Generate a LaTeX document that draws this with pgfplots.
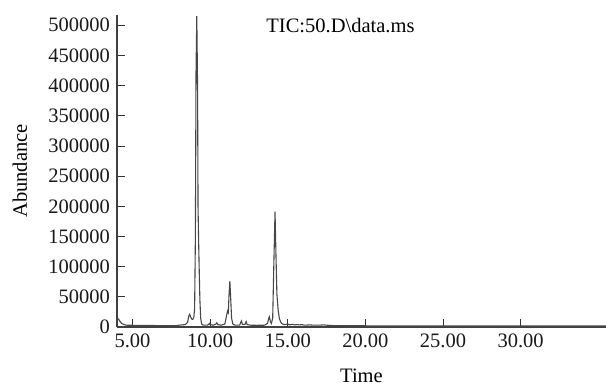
\documentclass[border=0pt]{standalone}
\usepackage{fontspec}
\setmainfont{Liberation Serif}
\usepackage{pgfplots}
\pgfplotsset{compat=1.18}
\begin{document}
\fontsize{20.5}{24}\selectfont
\begin{tikzpicture}
\begin{axis}[name=ax, scale only axis, width=489pt, height=312pt,
  xmin=4, xmax=35.5, ymin=0, ymax=517000,
  axis x line*=bottom, axis y line*=left,
  xtick={5,10,...,30},
  ytick={0,50000,...,500000},
  scaled y ticks=false, scaled x ticks=false,
  x tick label style={/pgf/number format/.cd, fixed, fixed zerofill, precision=2},
  y tick label style={/pgf/number format/.cd, fixed, 1000 sep={}},
  /pgf/number format/assume math mode=true,
  tick align=inside, major tick length=8pt,
  tick style={black!80, line width=0.8pt},
  axis line style={black!75, line width=1.4pt},
  ticklabel style={text=black!90},
  xlabel={Time}, ylabel={Abundance},
  xlabel style={at={(axis description cs:0.5,-0.1555)}, anchor=center},
  ylabel style={at={(axis description cs:-0.1984,0.5)}, anchor=center, rotate=0},
  clip=false,
]
\addplot[black!72, line width=1.1pt] coordinates {
(4.00,15000) (4.10,13000) (4.20,9000) (4.30,6000) (4.45,4000) (4.60,3000)
(5.00,2800) (6.00,2500) (7.00,2300) (7.80,2000) (8.00,3000) (8.20,3500)
(8.40,4000) (8.55,8000) (8.62,18000) (8.68,21000) (8.74,17000) (8.82,13000)
(8.88,12500) (8.95,16000) (9.00,30000) (9.05,150000) (9.09,420000) (9.14,515000)
(9.19,400000) (9.22,200000) (9.26,140000) (9.30,90000) (9.34,45000) (9.39,15000)
(9.45,5000) (9.55,3000) (9.80,3000) (9.90,4000) (9.95,6000) (10.00,4000)
(10.20,3000) (10.38,5000) (10.43,7000) (10.50,4000) (10.70,3000) (10.95,5000)
(11.05,18000) (11.12,26500) (11.17,24000) (11.22,55000) (11.27,76000) (11.32,50000)
(11.38,15000) (11.46,5000) (11.60,3000) (11.90,3000) (11.98,8000) (12.02,10000)
(12.08,4000) (12.25,4500) (12.32,9000) (12.38,4000) (12.60,3000) (13.00,2800)
(13.50,3000) (13.70,6000) (13.78,15000) (13.82,17000) (13.88,9000) (13.95,6000)
(14.03,15000) (14.10,100000) (14.18,191000) (14.24,120000) (14.30,55000) (14.38,28000)
(14.46,14000) (14.55,8000) (14.65,5000) (14.80,4000) (15.00,5000) (15.10,3500)
(15.30,4500) (15.45,3500) (15.60,4000) (15.75,3500) (15.90,4000) (16.10,3000)
(16.40,3500) (16.70,3000) (17.00,3000) (17.30,3500) (17.50,3000) (18.00,2200)
(20.00,2000) (22.00,1800) (25.00,1800) (30.00,1800) (35.50,1800)
};
\node[anchor=base] at (axis description cs:0.457,0.943) {TIC:50.D\textbackslash data.ms};
\end{axis}
\pgfresetboundingbox
\path ([xshift=-117pt,yshift=-60pt]ax.south west) rectangle ([yshift=15pt]ax.north east);
\end{tikzpicture}
\end{document}
